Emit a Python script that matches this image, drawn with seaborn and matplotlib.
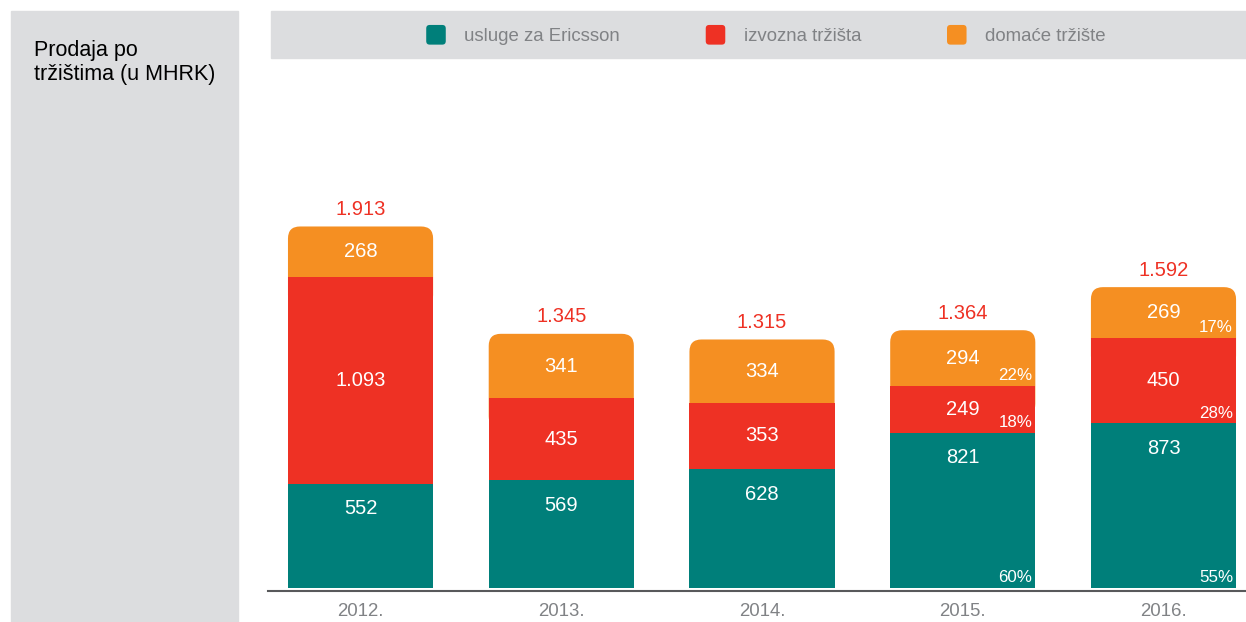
import matplotlib.pyplot as plt
import seaborn as sns
from matplotlib.legend_handler import HandlerPatch
from matplotlib.patches import FancyBboxPatch, Patch, Rectangle

years = ["2012.", "2013.", "2014.", "2015.", "2016."]
ericsson = [552, 569, 628, 821, 873]
export = [1093, 435, 353, 249, 450]
domestic = [268, 341, 334, 294, 269]
totals = ["1.913", "1.345", "1.315", "1.364", "1.592"]
export_lbl = ["1.093", "435", "353", "249", "450"]
pct_ericsson = [None, None, None, "60%", "55%"]
pct_export = [None, None, None, "18%", "28%"]
pct_domestic = [None, None, None, "22%", "17%"]

TEAL = "#007f7a"
RED = "#ee3124"
ORANGE = "#f58f22"
PANEL = "#dcdddf"
GREY_TXT = "#808285"

sns.set_style("white")
plt.rcParams["font.family"] = ["Liberation Sans", "DejaVu Sans"]

W, H = 1246, 622
fig = plt.figure(figsize=(W / 100, H / 100), dpi=100)

# grey side panel + legend band
fig.patches.append(Rectangle((11 / W, 0), 227 / W, 1 - 11 / H, transform=fig.transFigure,
                             color=PANEL, zorder=0))
fig.patches.append(Rectangle((271 / W, 1 - 58 / H), (W - 271) / W, 47 / H,
                             transform=fig.transFigure, color=PANEL, zorder=0))
fig.text(34 / W, 1 - 40 / H, "Prodaja po\ntržištima (u MHRK)", fontsize=15.5,
         va="top", ha="left", color="black", linespacing=1.18)

ax_l, ax_b, ax_t = 268, 591, 60
ax = fig.add_axes([ax_l / W, 1 - ax_b / H, (W - ax_l) / W, (ax_b - ax_t) / H])

stack_mid = [a + b for a, b in zip(ericsson, export)]
stack_top = [a + b for a, b in zip(stack_mid, domestic)]
bw = 0.723

sns.barplot(x=years, y=stack_top, color=ORANGE, saturation=1, width=bw, ax=ax, errorbar=None)
sns.barplot(x=years, y=stack_mid, color=RED, saturation=1, width=bw, ax=ax, errorbar=None)
sns.barplot(x=years, y=ericsson, color=TEAL, saturation=1, width=bw, ax=ax, errorbar=None)

xlim = (-0.461, 4.411)
ylim = (-16, 2794)
ax.set_xlim(*xlim)
ax.set_ylim(*ylim)

# rounded top on the orange bars (start just below the red bar so the
# rounded lower corners stay hidden)
xu = (xlim[1] - xlim[0]) / (W - ax_l)
yu = (ylim[1] - ylim[0]) / (ax_b - ax_t)
r_px = 12
orange_bars = list(ax.patches[:5])
red_bars = list(ax.patches[5:10])
for bar, red in zip(orange_bars, red_bars):
    x0, w, h = bar.get_x(), bar.get_width(), bar.get_height()
    y0 = red.get_height() - 2.5 * r_px * yu
    rb = FancyBboxPatch((x0, y0), w, h - y0, boxstyle=f"round,pad=0,rounding_size={r_px * xu}",
                        mutation_aspect=yu / xu, fc=ORANGE, ec="none",
                        zorder=bar.get_zorder() - 0.1)
    bar.remove()
    ax.add_patch(rb)
for p in ax.patches:
    p.set_edgecolor("none")

px = 0.72  # points per pixel
for i in range(len(years)):
    ax.annotate(str(ericsson[i]), (i, ericsson[i]), xytext=(0, -25 * px), textcoords="offset points",
                ha="center", va="center", color="white", fontsize=14.5)
    ax.annotate(export_lbl[i], (i, ericsson[i] + export[i] / 2), ha="center", va="center",
                color="white", fontsize=14.5)
    ax.annotate(str(domestic[i]), (i, stack_mid[i] + domestic[i] / 2), ha="center", va="center",
                color="white", fontsize=14.5)
    ax.annotate(totals[i], (i, stack_top[i]), xytext=(0, 17 * px), textcoords="offset points",
                ha="center", va="center", color=RED, fontsize=14.5)
    for lbl, base in ((pct_ericsson[i], 0), (pct_export[i], ericsson[i]),
                      (pct_domestic[i], stack_mid[i])):
        if lbl:
            ax.annotate(lbl, (i + bw / 2, base), xytext=(-3 * px, 10 * px),
                        textcoords="offset points", ha="right", va="center",
                        color="white", fontsize=12.2)

sns.despine(ax=ax, left=True, top=True, right=True)
ax.spines["bottom"].set_color("#58595b")
ax.spines["bottom"].set_linewidth(1.5)
ax.set_yticks([])
ax.set_xlabel("")
ax.tick_params(axis="x", length=0, pad=9, labelsize=13.4, labelcolor=GREY_TXT)
ax.set_facecolor("none")


class RoundHandler(HandlerPatch):
    def create_artists(self, legend, orig_handle, xdescent, ydescent, width, height, fontsize, trans):
        p = FancyBboxPatch((-xdescent, -ydescent), width, height,
                           boxstyle="round,pad=0,rounding_size=2.5",
                           fc=orig_handle.get_facecolor(), ec="none", transform=trans)
        return [p]


handles = [Patch(color=TEAL), Patch(color=RED), Patch(color=ORANGE)]
names = ["usluge za Ericsson", "izvozna tržišta", "domaće tržište"]
leg = fig.legend(handles, names, loc="center", bbox_to_anchor=(766 / W, 1 - 35 / H), ncol=3,
                 frameon=False, fontsize=13.4, handlelength=1.05, handleheight=1.25,
                 handletextpad=1.0, columnspacing=4.6,
                 handler_map={Patch: RoundHandler()})
for t in leg.get_texts():
    t.set_color(GREY_TXT)

fig.savefig("out.png", dpi=100)
